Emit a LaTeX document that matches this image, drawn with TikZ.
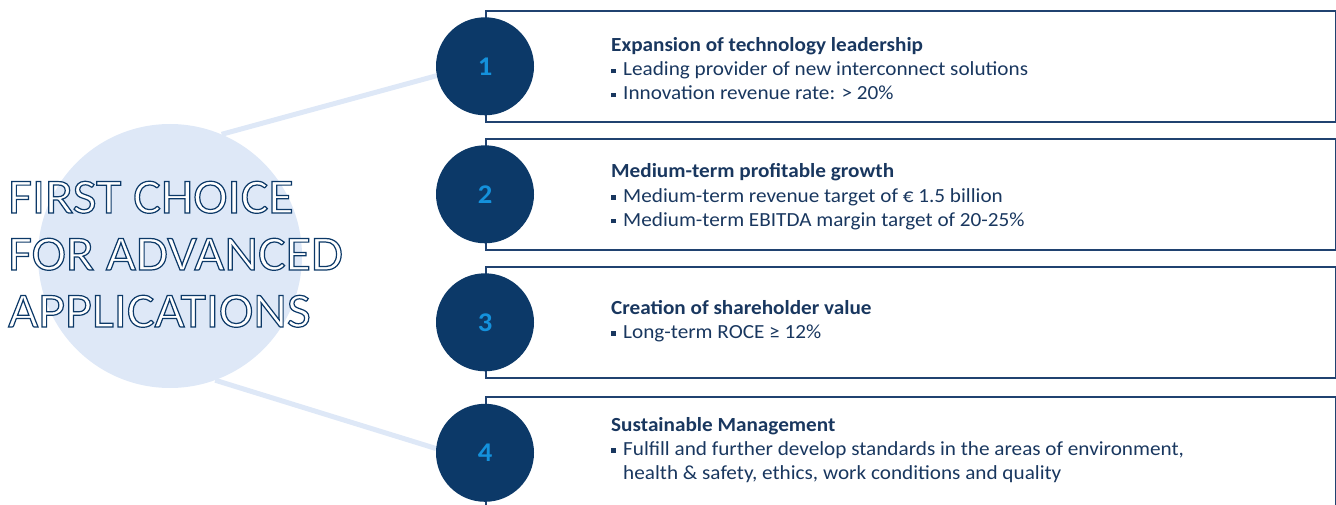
\documentclass[tikz,border=0pt]{standalone}
\usepackage{fontspec}
\setmainfont{Carlito}[FakeStretch=1.06]
\usetikzlibrary{positioning,backgrounds}

\definecolor{darknavy}{RGB}{12,57,104}
\definecolor{textnavy}{RGB}{25,55,95}
\definecolor{framenavy}{RGB}{32,66,112}
\definecolor{numblue}{RGB}{20,145,220}
\definecolor{paleblue}{RGB}{222,232,247}

% square bullet and hanging indent of the same width
\newcommand{\bul}{\makebox[12pt][l]{\rule[2.5pt]{4.5pt}{4.5pt}}}
\newcommand{\hang}{\hspace*{12pt}}
% hollow letters: white fill, stroked in the current colour
\newcommand{\hollow}[1]{\special{pdf:literal direct 2 Tr 1.2 w 1 1 1 rg}#1\special{pdf:literal direct 0 Tr}}

\tikzset{
  goalbox/.style={draw=framenavy, line width=1.6pt, minimum width=850pt,
    minimum height=111pt, inner sep=0pt, anchor=north west},
  goalnum/.style={circle, fill=darknavy, minimum size=98pt, inner sep=0pt,
    text=numblue, font=\fontsize{27}{30}\selectfont\bfseries},
  % base of a multi-line node is its last line
  goaltext/.style={anchor=base west, align=left, inner sep=0pt, text=textnavy,
    font=\fontsize{20}{24}\selectfont},
  link/.style={paleblue, line width=5pt},
}

\begin{document}
\begin{tikzpicture}[x=1pt,y=-1pt]
\path[use as bounding box, clip] (0,0) rectangle (1336,505);

% big circle with the claim
\node[circle, fill=paleblue, minimum size=264pt, inner sep=0pt] (focus) at (170,256) {};
\node[anchor=base west, align=left, inner sep=0pt, text=darknavy,
  font=\fontsize{49}{57}\selectfont] (claim) at (8,327)
  {\hollow{FIRST CHOICE}\\\hollow{FOR ADVANCED}\\\hollow{APPLICATIONS}};

% frames
\node[goalbox] (goal1) at (485,10) {};
\node[goalbox] (goal2) at (485,138) {};
\node[goalbox] (goal3) at (485,266) {};
\node[goalbox, minimum height=112pt] (goal4) at (485,396) {};

% numbers
\node[goalnum] (num1) at (goal1.west) {1};
\node[goalnum] (num2) at (goal2.west) {2};
\node[goalnum] (num3) at (goal3.west) {3};
\node[goalnum] (num4) at (goal4.west) {4};

% texts
\node[goaltext] (text1) at (611,100) {\textbf{Expansion of technology leadership}\\
  \bul Leading provider of new interconnect solutions\\
  \bul Innovation revenue rate: > 20\%};
\node[goaltext] (text2) at (611,226) {\textbf{Medium-term profitable growth}\\
  \bul Medium-term revenue target of € 1.5 billion\\
  \bul Medium-term EBITDA margin target of 20-25\%};
\node[goaltext] (text3) at (611,338) {\textbf{Creation of shareholder value}\\
  \bul Long-term ROCE ≥ 12\%};
\node[goaltext] (text4) at (611,479) {\textbf{Sustainable Management}\\
  \bul Fulfill and further develop standards in the areas of environment,\\
  \hang health \& safety, ethics, work conditions and quality};

% links from the claim to the first and last goal
\begin{scope}[on background layer]
\draw[link] (focus.67) -- (num1.191);
\draw[link] (focus.-70) -- (num4.175);
\end{scope}
\end{tikzpicture}
\end{document}
